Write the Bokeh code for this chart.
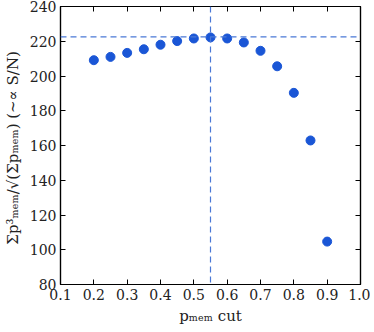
from bokeh.plotting import figure
from bokeh.models import LinearAxis, Span, FixedTicker
from bokeh.embed import file_html
from bokeh.resources import INLINE

pcut = [0.2, 0.25, 0.3, 0.35, 0.4, 0.45, 0.5, 0.55, 0.6, 0.65, 0.7, 0.75, 0.8, 0.85, 0.9]
sn = [209.1, 211.0, 213.3, 215.4, 218.0, 220.1, 221.6, 222.2, 221.6, 219.3, 214.5, 205.6, 190.3, 162.9, 104.7]
best_cut = 0.55
best_sn = 222.5
xticks = [0.1, 0.2, 0.3, 0.4, 0.5, 0.6, 0.7, 0.8, 0.9, 1.0]
yticks = [80, 100, 120, 140, 160, 180, 200, 220, 240]

FONT = "DejaVu Serif"

p = figure(width=366, height=324, frame_width=300, frame_height=278,
           x_range=(0.1, 1.0), y_range=(80, 240),
           output_backend="svg", toolbar_location=None,
           min_border_left=54, min_border_right=10, min_border_top=6, min_border_bottom=36)
p.xgrid.visible = False
p.ygrid.visible = False
p.outline_line_color = "black"
p.outline_line_width = 1.2

def style(ax):
    ax.major_tick_in = 5
    ax.major_tick_out = 0
    ax.minor_tick_line_color = None
    ax.axis_line_color = "black"
    ax.axis_line_width = 1.2
    ax.major_tick_line_color = "black"
    ax.major_label_text_font = FONT
    ax.major_label_text_font_size = "14px"
    ax.major_label_text_color = "#222222"
    ax.major_label_standoff = 4
    ax.axis_label_text_font = FONT
    ax.axis_label_text_font_style = "normal"
    ax.axis_label_text_font_size = "15px"
    ax.axis_label_text_color = "#222222"

p.xaxis.ticker = FixedTicker(ticks=xticks)
p.yaxis.ticker = FixedTicker(ticks=yticks)
p.xaxis.major_label_overrides = {t: f"{t:.1f}" for t in xticks}
style(p.xaxis[0])
style(p.yaxis[0])
p.xaxis.axis_label = "pₘₑₘ cut"
p.yaxis.axis_label = "Σp³ₘₑₘ/√(Σpₘₑₘ)  (~∝ S/N)"
p.xaxis.axis_label_standoff = 4
p.yaxis.axis_label_standoff = 5

top = LinearAxis(ticker=FixedTicker(ticks=xticks))
right = LinearAxis(ticker=FixedTicker(ticks=yticks))
for ax in (top, right):
    style(ax)
    ax.major_label_standoff = 0
    ax.major_label_text_font_size = "1px"
    ax.major_label_text_alpha = 0
p.add_layout(top, "above")
p.add_layout(right, "right")

p.add_layout(Span(location=best_cut, dimension="height", line_color="#4a78d6",
                  line_dash="6 4", line_width=1.2))
p.add_layout(Span(location=best_sn, dimension="width", line_color="#4a78d6",
                  line_dash="6 4", line_width=1.2))

p.scatter(pcut, sn, size=9, color="#1a56d6", line_color="#1a56d6")

open("out.html", "w").write(file_html(p, INLINE))
